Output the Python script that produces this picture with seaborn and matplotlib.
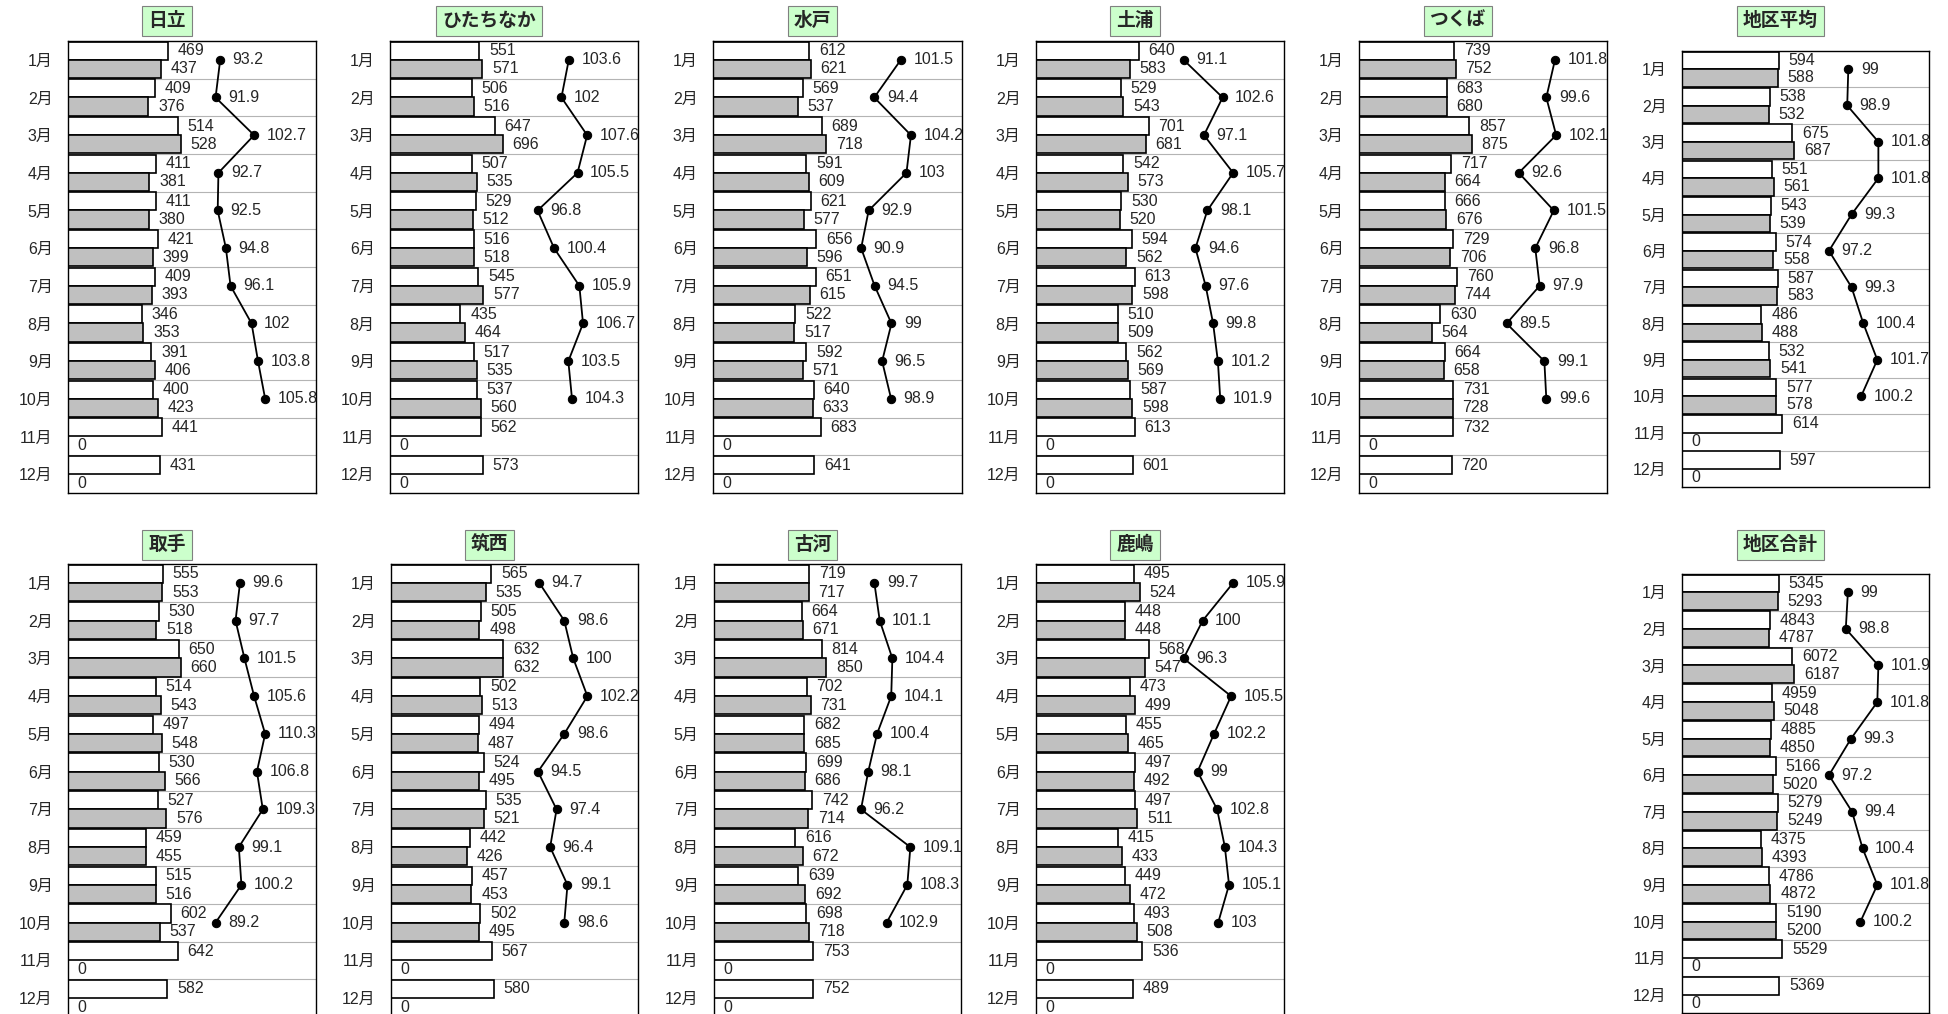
import numpy as np
import pandas as pd
import matplotlib.pyplot as plt
import seaborn as sns

sns.set_style('white')
plt.rcParams['font.family'] = ['Liberation Sans', 'Noto Sans CJK JP', 'DejaVu Sans']

months = [f'{m}月' for m in range(1, 13)]
years = ['前年', '本年']

# 前年 / 本年 / 前年比 (Jan..Dec, ratio only up to Oct)
hitachi_prev = [469, 409, 514, 411, 411, 421, 409, 346, 391, 400, 441, 431]
hitachi_curr = [437, 376, 528, 381, 380, 399, 393, 353, 406, 423, 0, 0]
hitachi_ratio = [93.2, 91.9, 102.7, 92.7, 92.5, 94.8, 96.1, 102, 103.8, 105.8]

hitachinaka_prev = [551, 506, 647, 507, 529, 516, 545, 435, 517, 537, 562, 573]
hitachinaka_curr = [571, 516, 696, 535, 512, 518, 577, 464, 535, 560, 0, 0]
hitachinaka_ratio = [103.6, 102, 107.6, 105.5, 96.8, 100.4, 105.9, 106.7, 103.5, 104.3]

mito_prev = [612, 569, 689, 591, 621, 656, 651, 522, 592, 640, 683, 641]
mito_curr = [621, 537, 718, 609, 577, 596, 615, 517, 571, 633, 0, 0]
mito_ratio = [101.5, 94.4, 104.2, 103, 92.9, 90.9, 94.5, 99, 96.5, 98.9]

tsuchiura_prev = [640, 529, 701, 542, 530, 594, 613, 510, 562, 587, 613, 601]
tsuchiura_curr = [583, 543, 681, 573, 520, 562, 598, 509, 569, 598, 0, 0]
tsuchiura_ratio = [91.1, 102.6, 97.1, 105.7, 98.1, 94.6, 97.6, 99.8, 101.2, 101.9]

tsukuba_prev = [739, 683, 857, 717, 666, 729, 760, 630, 664, 731, 732, 720]
tsukuba_curr = [752, 680, 875, 664, 676, 706, 744, 564, 658, 728, 0, 0]
tsukuba_ratio = [101.8, 99.6, 102.1, 92.6, 101.5, 96.8, 97.9, 89.5, 99.1, 99.6]

avg_prev = [594, 538, 675, 551, 543, 574, 587, 486, 532, 577, 614, 597]
avg_curr = [588, 532, 687, 561, 539, 558, 583, 488, 541, 578, 0, 0]
avg_ratio = [99, 98.9, 101.8, 101.8, 99.3, 97.2, 99.3, 100.4, 101.7, 100.2]

toride_prev = [555, 530, 650, 514, 497, 530, 527, 459, 515, 602, 642, 582]
toride_curr = [553, 518, 660, 543, 548, 566, 576, 455, 516, 537, 0, 0]
toride_ratio = [99.6, 97.7, 101.5, 105.6, 110.3, 106.8, 109.3, 99.1, 100.2, 89.2]

chikusei_prev = [565, 505, 632, 502, 494, 524, 535, 442, 457, 502, 567, 580]
chikusei_curr = [535, 498, 632, 513, 487, 495, 521, 426, 453, 495, 0, 0]
chikusei_ratio = [94.7, 98.6, 100, 102.2, 98.6, 94.5, 97.4, 96.4, 99.1, 98.6]

koga_prev = [719, 664, 814, 702, 682, 699, 742, 616, 639, 698, 753, 752]
koga_curr = [717, 671, 850, 731, 685, 686, 714, 672, 692, 718, 0, 0]
koga_ratio = [99.7, 101.1, 104.4, 104.1, 100.4, 98.1, 96.2, 109.1, 108.3, 102.9]

kashima_prev = [495, 448, 568, 473, 455, 497, 497, 415, 449, 493, 536, 489]
kashima_curr = [524, 448, 547, 499, 465, 492, 511, 433, 472, 508, 0, 0]
kashima_ratio = [105.9, 100, 96.3, 105.5, 102.2, 99, 102.8, 104.3, 105.1, 103]

total_prev = [5345, 4843, 6072, 4959, 4885, 5166, 5279, 4375, 4786, 5190, 5529, 5369]
total_curr = [5293, 4787, 6187, 5048, 4850, 5020, 5249, 4393, 4872, 5200, 0, 0]
total_ratio = [99, 98.8, 101.9, 101.8, 99.3, 97.2, 99.4, 100.4, 101.8, 100.2]

panels = [
    ('日立', hitachi_prev, hitachi_curr, hitachi_ratio),
    ('ひたちなか', hitachinaka_prev, hitachinaka_curr, hitachinaka_ratio),
    ('水戸', mito_prev, mito_curr, mito_ratio),
    ('土浦', tsuchiura_prev, tsuchiura_curr, tsuchiura_ratio),
    ('つくば', tsukuba_prev, tsukuba_curr, tsukuba_ratio),
    ('地区平均', avg_prev, avg_curr, avg_ratio),
    ('取手', toride_prev, toride_curr, toride_ratio),
    ('筑西', chikusei_prev, chikusei_curr, chikusei_ratio),
    ('古河', koga_prev, koga_curr, koga_ratio),
    ('鹿嶋', kashima_prev, kashima_curr, kashima_ratio),
    ('地区合計', total_prev, total_curr, total_ratio),
]

# plot area of each panel in pixels: left, top, right, bottom
W, H = 1948, 1014
boxes = [
    (68, 41, 316, 493), (390, 41, 638, 493), (713, 41, 962, 493),
    (1036, 41, 1284, 493), (1359, 41, 1607, 493), (1682, 51, 1929, 487),
    (68, 564, 316, 1017), (391, 564, 638, 1017), (714, 564, 961, 1017),
    (1036, 564, 1284, 1017), (1682, 574, 1929, 1013),
]

fig = plt.figure(figsize=(W / 100, H / 100), dpi=100)

for (name, prev, curr, ratio), (l, t, r, b) in zip(panels, boxes):
    ax = fig.add_axes([l / W, 1 - b / H, (r - l) / W, (b - t) / H])
    df = pd.DataFrame({
        'month': months * 2,
        'year': [years[0]] * 12 + [years[1]] * 12,
        'value': list(prev) + list(curr),
    })
    sns.barplot(data=df, y='month', x='value', hue='year', order=months,
                hue_order=years, orient='h', palette=['white', '#c0c0c0'],
                edgecolor='black', linewidth=1.2, width=0.97,
                errorbar=None, legend=False, ax=ax)
    for cont, vals in zip(ax.containers, [prev, curr]):
        ax.bar_label(cont, labels=[str(v) for v in vals], padding=7, fontsize=11.5)
    ax.set_xlim(0, max(prev + curr) * 2.2)
    ax.set_xlabel('')
    ax.set_ylabel('')
    ax.set_xticks([])
    ax.set_yticks(np.arange(0.5, 11, 1), minor=True)
    ax.grid(axis='y', which='minor', color='#b4b4b4', lw=0.8)
    ax.grid(axis='y', which='major', visible=False)
    ax.set_axisbelow(True)
    ax.tick_params(axis='y', which='both', length=0, pad=11, labelsize=11.5)
    for s in ax.spines.values():
        s.set_color('black')
        s.set_linewidth(1.0)

    # 前年比 on its own horizontal scale
    ax2 = ax.twiny()
    sns.lineplot(x=ratio, y=np.arange(len(ratio)), orient='y', sort=False,
                 color='black', marker='o', markersize=6, linewidth=1.3,
                 markeredgecolor='black', ax=ax2)
    lo, hi = min(ratio), max(ratio)
    span = (hi - lo) / 0.2
    ax2.set_xlim(lo - 0.595 * span, lo - 0.595 * span + span)
    for i, v in enumerate(ratio):
        ax2.annotate(f'{v:g}', (v, i), xytext=(9, 0), textcoords='offset points',
                     va='center', ha='left', fontsize=11.5)
    ax2.set_xticks([])
    ax2.set_xlabel('')
    for s in ax2.spines.values():
        s.set_visible(False)
    ax.set_ylim(11.5, -0.5)

    cx = ((l + r) / 2 - 25) / W
    cy = 1 - (21 if t < 300 else 545) / H
    fig.text(cx, cy, name, ha='center', va='center', fontsize=13.5,
             fontweight='bold',
             bbox=dict(boxstyle='square,pad=0.32', facecolor='#ccffcc',
                       edgecolor='#808080', linewidth=0.8))

fig.savefig('out.png', dpi=100)
